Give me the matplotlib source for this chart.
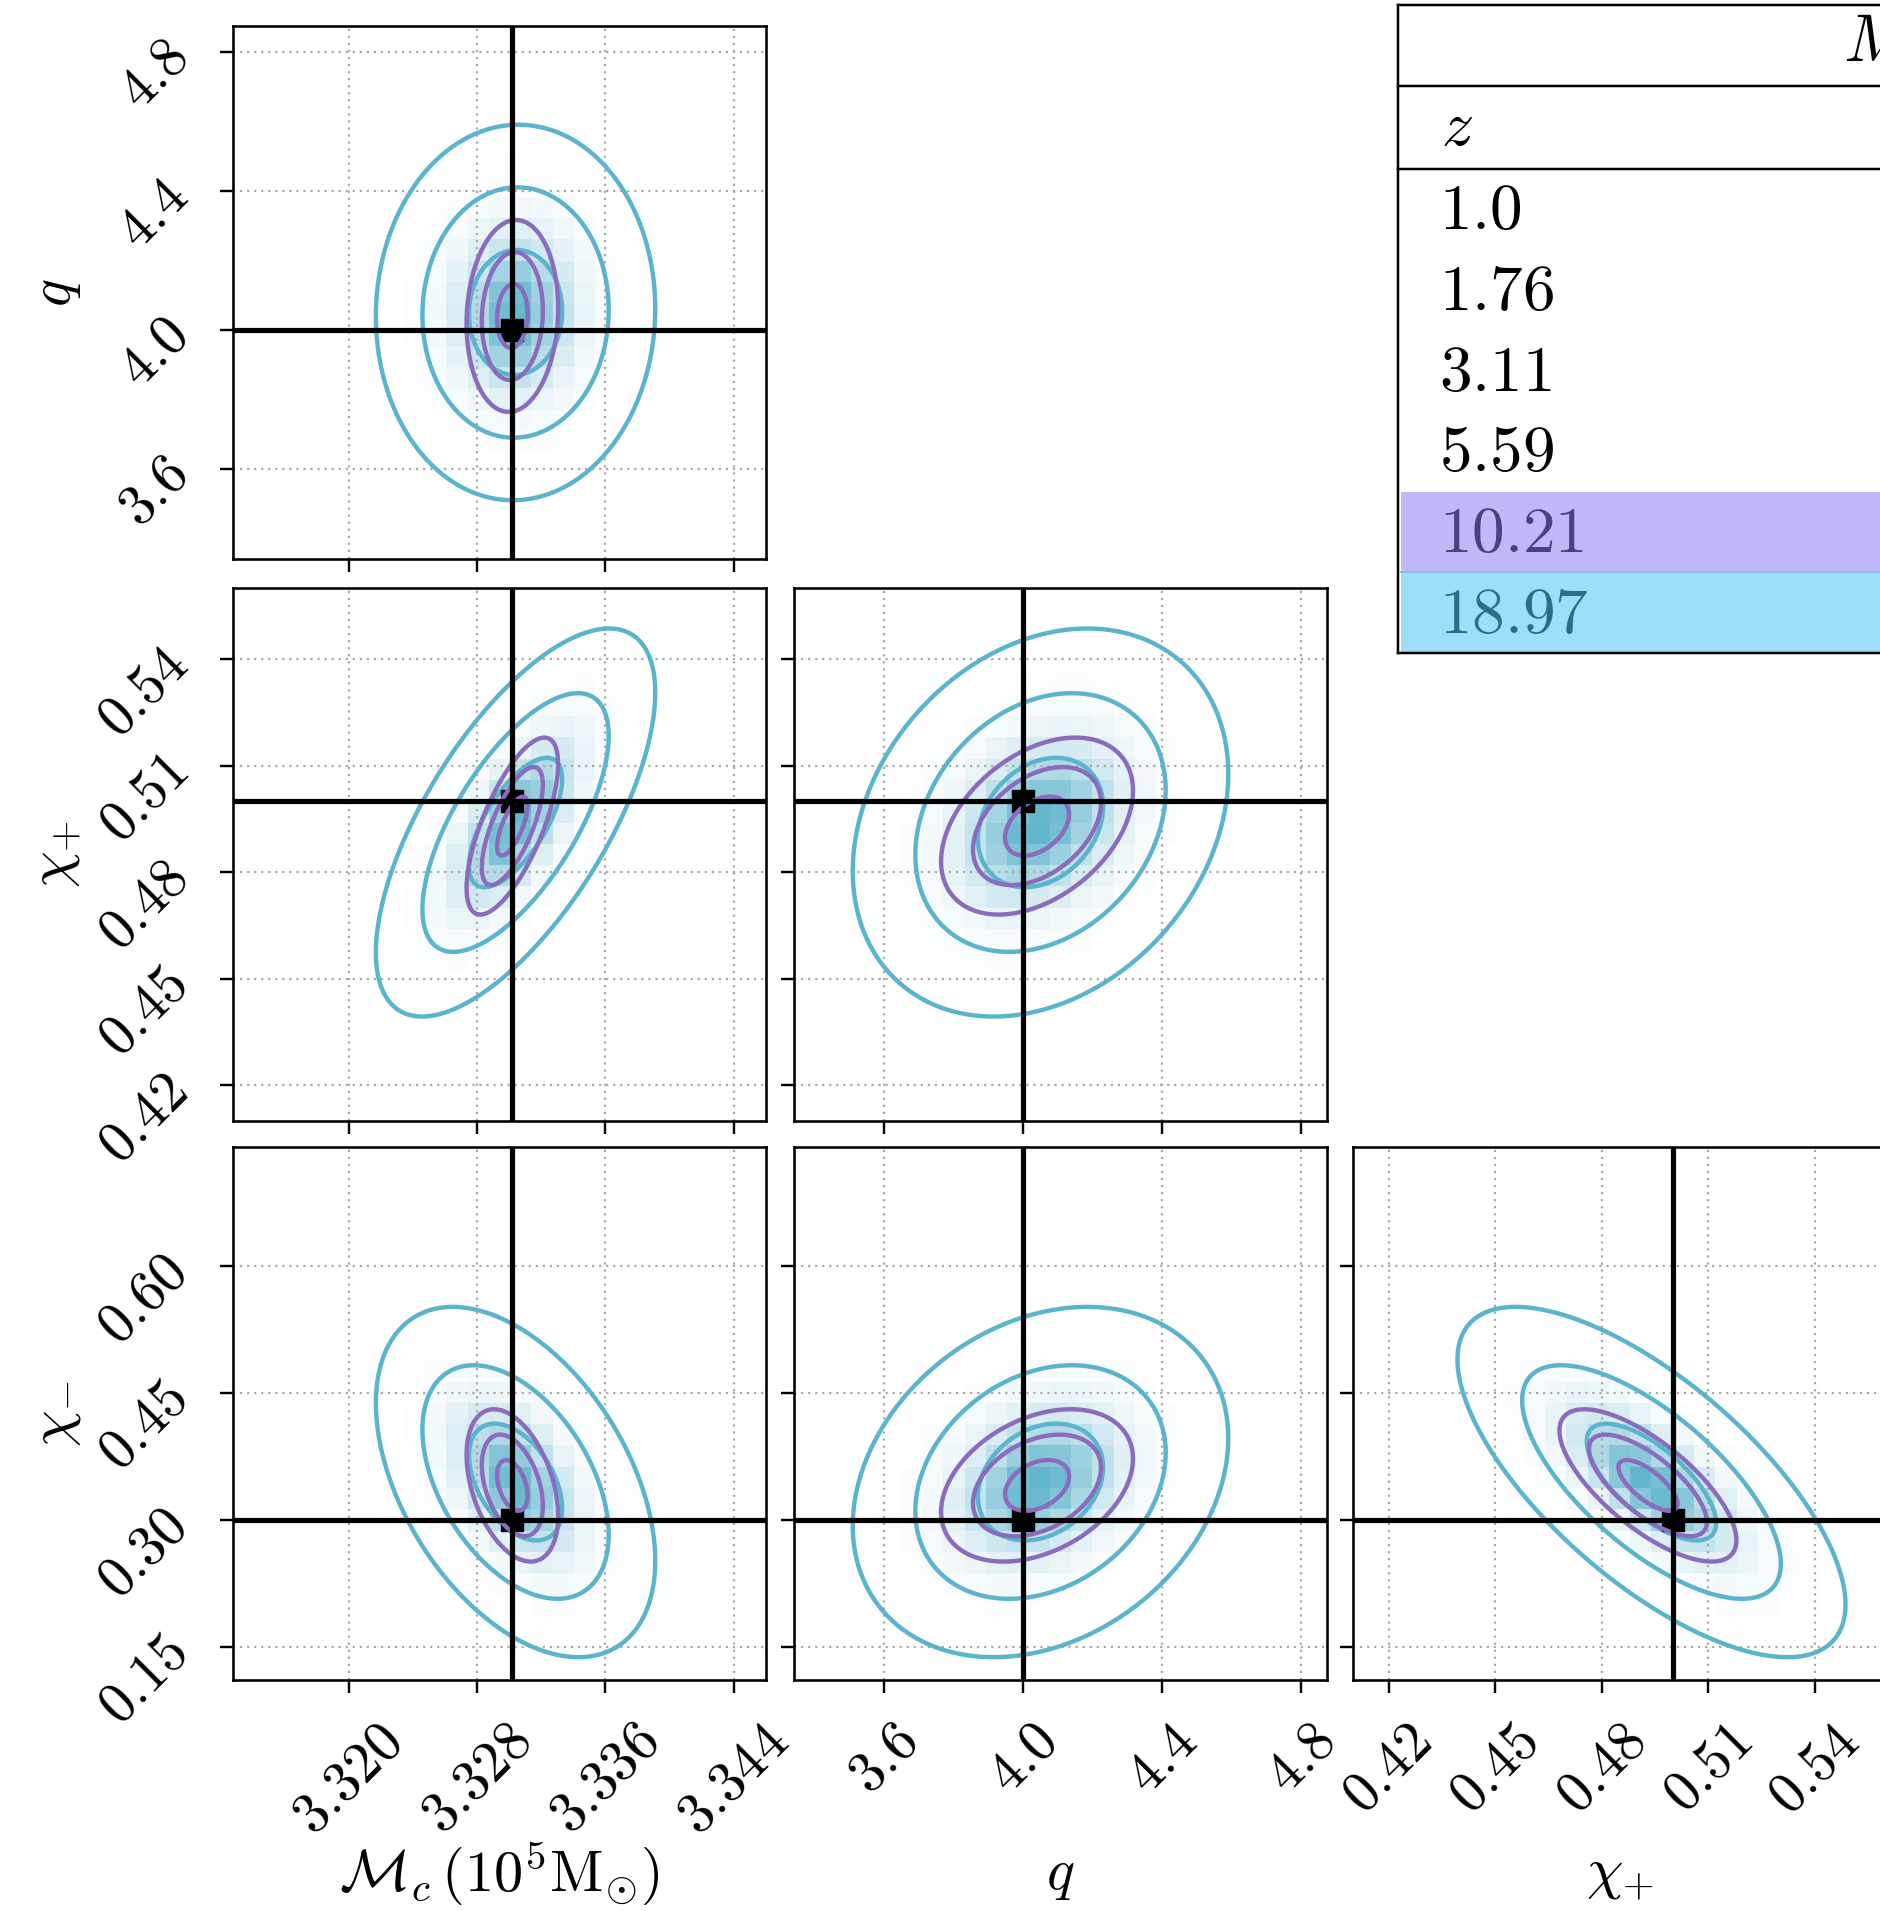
import numpy as np
import matplotlib
matplotlib.use("Agg")
import matplotlib.pyplot as plt
from matplotlib.colors import LinearSegmentedColormap, to_rgb
from matplotlib.patches import Rectangle

plt.rcParams['mathtext.fontset'] = 'cm'
plt.rcParams['font.family'] = ['DejaVu Serif']

# ---------------- data ----------------
param_labels = [r'$\mathcal{M}_c\,(10^5\mathrm{M}_{\odot})$', r'$q$', r'$\chi_{+}$', r'$\chi_{-}$']
truths = [3.3302, 4.0, 0.50, 0.30]
axis_limits = [(3.3128, 3.3460), (3.341, 4.874), (0.410, 0.560), (0.111, 0.741)]
tick_values = [[3.320, 3.328, 3.336, 3.344], [3.6, 4.0, 4.4, 4.8],
               [0.42, 0.45, 0.48, 0.51, 0.54], [0.15, 0.30, 0.45, 0.60]]
tick_labels = [['3.320', '3.328', '3.336', '3.344'], ['3.6', '4.0', '4.4', '4.8'],
               ['0.42', '0.45', '0.48', '0.51', '0.54'], ['0.15', '0.30', '0.45', '0.60']]

# table of redshifts (two highlighted rows are the plotted posteriors)
z_values = ['1.0', '1.76', '3.11', '5.59', '10.21', '18.97']
table_header = r'$M$'
table_subheader = r'$z$'

# posterior summaries: means, std devs, pair correlations
# pair order: (Mc,q) (Mc,chi+) (Mc,chi-) (q,chi+) (q,chi-) (chi+,chi-)
pair_order = [(0, 1), (0, 2), (0, 3), (1, 2), (1, 3), (2, 3)]
mean_z1897 = [3.3304, 4.050, 0.494, 0.345]
std_z1897 = [0.00290, 0.180, 0.0182, 0.0690]
corr_z1897 = [0.02, 0.67, -0.45, 0.25, 0.25, -0.70]
mean_z1021 = [3.3302, 4.040, 0.493, 0.341]
std_z1021 = [0.00095, 0.092, 0.0083, 0.0300]
corr_z1021 = [0.08, 0.70, -0.40, 0.40, 0.35, -0.72]
sigma_levels = [1, 2, 3]

# ---------------- style ----------------
W, H, DPI = 1881, 1911, 100
PT = 72.0 / DPI
cyan = '#5ab4cd'
purple = '#8b6bbd'
fill_rgb = to_rgb('#5ab2cb')
row_bg = {4: '#c0b8f8', 5: '#9ddff8'}
row_fg = {4: '#4b3f85', 5: '#2a6e8a'}
col_left = [233, 794, 1353]
row_top = [26, 588, 1147]
size = 533
FS = 41

fig = plt.figure(figsize=(W / DPI, H / DPI), dpi=DPI, facecolor='white')
fill_cmap = LinearSegmentedColormap.from_list(
    'fill', [(*fill_rgb, 0.0), (*fill_rgb, 0.8)])


def corr_of(corrs, i, j):
    return corrs[pair_order.index((i, j))]


def maha(X, Y, mean, std, rho, i, j):
    u = (X - mean[i]) / std[i]
    v = (Y - mean[j]) / std[j]
    return np.sqrt((u * u - 2 * rho * u * v + v * v) / (1 - rho ** 2))


datasets = [(mean_z1897, std_z1897, corr_z1897, cyan, 2.0),
            (mean_z1021, std_z1021, corr_z1021, purple, 3.5)]

for r in range(3):
    j = r + 1
    for c in range(r + 1):
        i = c
        ax = fig.add_axes([col_left[c] / W, 1 - (row_top[r] + size) / H, size / W, size / H])
        xl, yl = axis_limits[i], axis_limits[j]
        # coarse histogram-like fill
        xe = np.linspace(xl[0], xl[1], 26)
        ye = np.linspace(yl[0], yl[1], 26)
        xc = 0.5 * (xe[1:] + xe[:-1])
        yc = 0.5 * (ye[1:] + ye[:-1])
        XC, YC = np.meshgrid(xc, yc)
        for mean, std, corr, col, zo in datasets:
            d = maha(XC, YC, mean, std, corr_of(corr, i, j), i, j)
            ax.pcolormesh(xe, ye, np.exp(-0.5 * d ** 2) ** 1.6, cmap=fill_cmap,
                          vmin=0, vmax=1, zorder=0, shading='flat')
        # contours
        xg = np.linspace(xl[0], xl[1], 400)
        yg = np.linspace(yl[0], yl[1], 400)
        XG, YG = np.meshgrid(xg, yg)
        for mean, std, corr, col, zo in datasets:
            d = maha(XG, YG, mean, std, corr_of(corr, i, j), i, j)
            ax.contour(XG, YG, d, levels=sigma_levels, colors=col,
                       linewidths=4.4 * PT, zorder=zo)
        # truths
        ax.plot(truths[i], truths[j], 's', color='black', ms=22 * PT, zorder=3)
        ax.axvline(truths[i], color='black', lw=5.2 * PT, zorder=4)
        ax.axhline(truths[j], color='black', lw=5.2 * PT, zorder=4)

        ax.set_xlim(*xl)
        ax.set_ylim(*yl)
        ax.set_xticks(tick_values[i])
        ax.set_yticks(tick_values[j])
        ax.grid(True, color='#a8a8a8', lw=2.2 * PT, linestyle=(0, (1, 2.2)))
        for s in ax.spines.values():
            s.set_linewidth(2.6 * PT)
        ax.tick_params(direction='out', length=13 * PT, width=2.4 * PT,
                       labelsize=FS, pad=15)
        if r == 2:
            ax.set_xticklabels(['$' + t + '$' for t in tick_labels[i]], rotation=45)
            ax.set_xlabel(param_labels[i], fontsize=42)
            ax.xaxis.set_label_coords(0.5, -0.364)
            ax.xaxis.label.set_va('center')
        else:
            ax.tick_params(labelbottom=False)
        if c == 0:
            ax.set_yticklabels(['$' + t + '$' for t in tick_labels[j]], rotation=45)
            ax.set_ylabel(param_labels[j], fontsize=42)
            ax.yaxis.set_label_coords(-0.334, 0.5)
            ax.yaxis.label.set_va('center')
            ax.yaxis.label.set_ha('center')
        else:
            ax.tick_params(labelleft=False)

# ---------------- table (top right) ----------------
ov = fig.add_axes([0, 0, 1, 1])
ov.set_xlim(0, W)
ov.set_ylim(H, 0)
ov.axis('off')
tx0, ttop, hdr_b, sub_b, tbot = 1398, 5, 86, 169, 653
tlw = 2.5 * PT
row_h = (tbot - sub_b) / len(z_values)
for k, zv in enumerate(z_values):
    y0 = sub_b + k * row_h
    if k in row_bg:
        ov.add_patch(Rectangle((tx0 + 3, y0), 1000, row_h, facecolor=row_bg[k],
                               edgecolor='none', zorder=1))
    ov.text(1439, y0 + row_h / 2 + 2, '$' + zv + '$', fontsize=47,
            color=row_fg.get(k, 'black'), ha='left', va='center', zorder=3)
ov.plot([tx0 + 3, W + 10], [sub_b + 5 * row_h] * 2, color='#80c0f8', lw=2 * PT, zorder=2)
for yy in (ttop, hdr_b, sub_b, tbot):
    ov.plot([tx0, W + 10], [yy, yy], color='black', lw=tlw, zorder=4)
ov.plot([tx0, tx0], [ttop, tbot], color='black', lw=tlw, zorder=4)
ov.text(1441, (hdr_b + sub_b) / 2, table_subheader, fontsize=46, ha='left', va='center')
ov.text(1843, (ttop + hdr_b) / 2 - 3, table_header, fontsize=48, ha='left', va='center')

fig.savefig('out.png', dpi=DPI, facecolor='white')
